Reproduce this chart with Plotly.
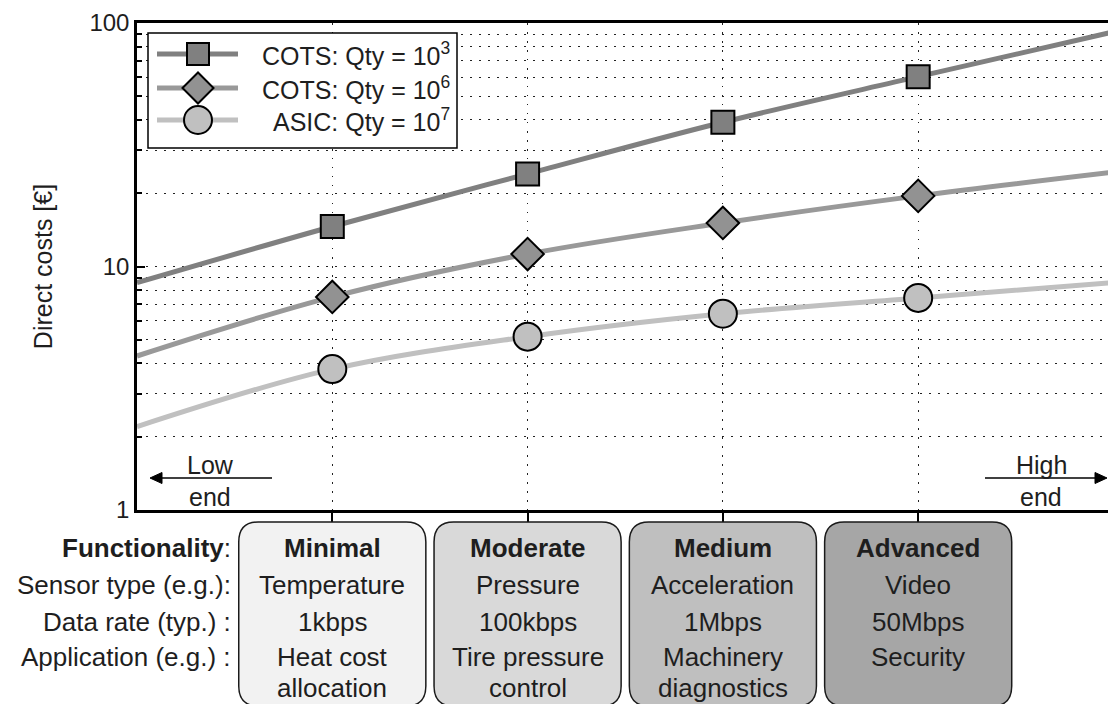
import plotly.graph_objects as go

# ---------------- data ----------------
x_curve = [0, 1, 2, 3, 4, 5]
cots_1e3_curve = [8.58, 14.6, 24.0, 39.1, 60.2, 92.0]
cots_1e6_curve = [4.29, 7.5, 11.25, 15.1, 19.5, 24.4]
asic_1e7_curve = [2.2, 3.79, 5.15, 6.4, 7.43, 8.6]

x_markers = [1, 2, 3, 4]
cots_1e3_pts = [14.6, 24.0, 39.1, 60.2]
cots_1e6_pts = [7.5, 11.25, 15.1, 19.5]
asic_1e7_pts = [3.79, 5.15, 6.4, 7.43]

series_names = ["COTS: Qty = 10<sup>3</sup>", "COTS: Qty = 10<sup>6</sup>",
                "ASIC: Qty = 10<sup>7</sup>"]

functionality = ["Minimal", "Moderate", "Medium", "Advanced"]
sensor_type = ["Temperature", "Pressure", "Acceleration", "Video"]
data_rate = ["1kbps", "100kbps", "1Mbps", "50Mbps"]
application_l1 = ["Heat cost", "Tire pressure", "Machinery", "Security"]
application_l2 = ["allocation", "control", "diagnostics", ""]
row_labels = ["<b>Functionality</b>:", "Sensor type (e.g.):",
              "Data rate (typ.) :", "Application (e.g.) :"]

y_major = [1, 10, 100]
y_minor = [2, 3, 4, 5, 6, 7, 8, 9, 20, 30, 40, 50, 60, 70, 80, 90]

# ---------------- geometry helpers (pixel -> paper) ----------------
W, H = 1108, 704
ML, MR, MT, MB = 137, 0, 23, 194
PW, PH = W - ML - MR, H - MT - MB


def px(x):
    return (x - ML) / PW


def py(y):
    return (H - MB - y) / PH


# ---------------- style ----------------
FONT = "Liberation Sans, Arial, Helvetica, sans-serif"
TXT = "#1e1e1e"
line_colors = ["#808080", "#999999", "#c0c0c0"]
marker_fill = ["#808080", "#929292", "#c0c0c0"]
symbols = ["square", "diamond", "circle"]
msizes = [23, 25, 28]
box_fills = ["#f2f2f2", "#d9d9d9", "#bfbfbf", "#a6a6a6"]
GRID_DASH = "1.5px,7.5px"

fig = go.Figure()

curves = [cots_1e3_curve, cots_1e6_curve, asic_1e7_curve]
pts = [cots_1e3_pts, cots_1e6_pts, asic_1e7_pts]

for i in range(3):
    fig.add_trace(go.Scatter(
        x=x_curve, y=curves[i], mode="lines", name=series_names[i],
        line=dict(color=line_colors[i], width=5, shape="spline", smoothing=1.0),
        showlegend=False, hoverinfo="skip"))
for i in range(3):
    fig.add_trace(go.Scatter(
        x=x_markers, y=pts[i], mode="markers", name=series_names[i],
        marker=dict(symbol=symbols[i], size=msizes[i], color=marker_fill[i],
                    line=dict(color="black", width=2)),
        showlegend=False))

shapes = []
ann = []

# ---------------- legend (drawn) ----------------
shapes.append(dict(type="rect", xref="paper", yref="paper",
                   x0=px(148), x1=px(457), y0=py(33), y1=py(148),
                   fillcolor="white", line=dict(color="black", width=1.5), layer="above"))
leg_rows = [54, 88, 120]
for i, ry_ in enumerate(leg_rows):
    shapes.append(dict(type="line", xref="paper", yref="paper",
                       x0=px(157), x1=px(238), y0=py(ry_), y1=py(ry_),
                       line=dict(color=line_colors[i], width=5), layer="above"))
    cx = 198
    if symbols[i] == "square":
        s = 11
        shapes.append(dict(type="rect", xref="paper", yref="paper",
                           x0=px(cx - s), x1=px(cx + s), y0=py(ry_ - s), y1=py(ry_ + s),
                           fillcolor=marker_fill[i], line=dict(color="black", width=2),
                           layer="above"))
    elif symbols[i] == "diamond":
        d = 15.5
        path = (f"M {px(cx - d)},{py(ry_)} L {px(cx)},{py(ry_ - d)} "
                f"L {px(cx + d)},{py(ry_)} L {px(cx)},{py(ry_ + d)} Z")
        shapes.append(dict(type="path", xref="paper", yref="paper", path=path,
                           fillcolor=marker_fill[i], line=dict(color="black", width=2),
                           layer="above"))
    else:
        r = 14
        shapes.append(dict(type="circle", xref="paper", yref="paper",
                           x0=px(cx - r), x1=px(cx + r), y0=py(ry_ - r), y1=py(ry_ + r),
                           fillcolor=marker_fill[i], line=dict(color="black", width=2),
                           layer="above"))
    ann.append(dict(text=series_names[i], x=px(452), y=py(ry_), xref="paper", yref="paper",
                    xanchor="right", yanchor="middle", showarrow=False,
                    font=dict(family=FONT, size=25, color=TXT)))

# ---------------- rounded boxes ----------------
half_w = 0.479
rx = 0.10
top_p, bot_p = py(522), py(706)
ry = 20 / PH
for i, cat in enumerate(functionality):
    xc = x_markers[i]
    x0, x1 = xc - half_w, xc + half_w
    path = (f"M {x0+rx},{top_p} L {x1-rx},{top_p} Q {x1},{top_p} {x1},{top_p-ry} "
            f"L {x1},{bot_p+ry} Q {x1},{bot_p} {x1-rx},{bot_p} "
            f"L {x0+rx},{bot_p} Q {x0},{bot_p} {x0},{bot_p+ry} "
            f"L {x0},{top_p-ry} Q {x0},{top_p} {x0+rx},{top_p} Z")
    shapes.append(dict(type="path", path=path, xref="x", yref="paper",
                       fillcolor=box_fills[i], line=dict(color="#1a1a1a", width=1.5),
                       layer="above"))

# ---------------- box texts ----------------
row_y = [py(548), py(585), py(622), py(657)]
row2_y = py(688)
BOX_FS = 26
for r, lab in enumerate(row_labels):
    ann.append(dict(text=lab, x=px(233), y=row_y[r], xref="paper", yref="paper",
                    xanchor="right", yanchor="middle", showarrow=False,
                    font=dict(family=FONT, size=BOX_FS, color=TXT)))
for i in range(4):
    xc = x_markers[i]
    cols = [f"<b>{functionality[i]}</b>", sensor_type[i], data_rate[i], application_l1[i]]
    for r, t in enumerate(cols):
        ann.append(dict(text=t, x=xc, y=row_y[r], xref="x", yref="paper",
                        xanchor="center", yanchor="middle", showarrow=False,
                        font=dict(family=FONT, size=BOX_FS, color=TXT)))
    if application_l2[i]:
        ann.append(dict(text=application_l2[i], x=xc, y=row2_y, xref="x", yref="paper",
                        xanchor="center", yanchor="middle", showarrow=False,
                        font=dict(family=FONT, size=BOX_FS, color=TXT)))

# ---------------- Low end / High end ----------------
LH_FS = 25
for lab, xx in (("Low", 210), ("High", 1041)):
    ann.append(dict(text=lab, x=px(xx), y=py(465), xref="paper", yref="paper",
                    showarrow=False, xanchor="center", yanchor="middle",
                    font=dict(family=FONT, size=LH_FS, color=TXT)))
    ann.append(dict(text="end", x=px(xx), y=py(497), xref="paper", yref="paper",
                    showarrow=False, xanchor="center", yanchor="middle",
                    font=dict(family=FONT, size=LH_FS, color=TXT)))
# arrows: shaft + filled head
AY = 478
for tail, base, tip in ((272, 162, 150), (985, 1095, 1107)):
    shapes.append(dict(type="line", xref="paper", yref="paper",
                       x0=px(tail), x1=px(base), y0=py(AY), y1=py(AY),
                       line=dict(color="black", width=1.5), layer="above"))
    shapes.append(dict(type="path", xref="paper", yref="paper",
                       path=(f"M {px(tip)},{py(AY)} L {px(base)},{py(AY - 5.5)} "
                             f"L {px(base)},{py(AY + 5.5)} Z"),
                       fillcolor="black", line=dict(color="black", width=1), layer="above"))

fig.update_layout(
    width=W, height=H,
    margin=dict(l=ML, r=MR, t=MT, b=MB, pad=0),
    paper_bgcolor="white", plot_bgcolor="white",
    font=dict(family=FONT, size=24, color=TXT),
    shapes=shapes, annotations=ann, showlegend=False,
    xaxis=dict(range=[0, 4.972], tickvals=x_markers, showticklabels=False,
               ticks="outside", ticklen=12, tickwidth=1.5, tickcolor="black",
               showline=True, linecolor="black", linewidth=2.5, mirror=True,
               showgrid=True, gridcolor="#222", gridwidth=1, griddash=GRID_DASH,
               zeroline=False, fixedrange=True),
    xaxis2=dict(range=[0, 4.972], overlaying="x", side="top", anchor="y",
                tickvals=x_markers, showticklabels=False,
                ticks="inside", ticklen=8, tickwidth=1.5, tickcolor="black",
                showline=False, showgrid=False, zeroline=False, fixedrange=True),
    yaxis=dict(type="log", range=[0, 2], tickvals=y_major,
               ticktext=[str(v) for v in y_major],
               ticks="inside", ticklen=8, tickwidth=1.5, tickcolor="black",
               tickfont=dict(family=FONT, size=24, color=TXT),
               showline=True, linecolor="black", linewidth=2.5, mirror=False,
               showgrid=True, gridcolor="#222", gridwidth=1, griddash=GRID_DASH,
               minor=dict(tickvals=y_minor, ticks="inside", ticklen=5,
                          tickcolor="black", showgrid=True, gridcolor="#222",
                          gridwidth=1, griddash=GRID_DASH),
               title=dict(text="Direct costs [€]", standoff=30,
                          font=dict(family=FONT, size=25, color=TXT)),
               zeroline=False, fixedrange=True),
    yaxis2=dict(type="log", range=[0, 2], overlaying="y", side="right", anchor="x",
                tickvals=y_major, showticklabels=False,
                ticks="inside", ticklen=8, tickwidth=1.5, tickcolor="black",
                minor=dict(tickvals=y_minor, ticks="inside", ticklen=5,
                           tickcolor="black", showgrid=False),
                showline=False, showgrid=False, zeroline=False, fixedrange=True),
)

fig.write_html("out.html", config={"displayModeBar": False},
               post_script="document.body.style.margin='0';document.body.style.overflow='hidden';")
